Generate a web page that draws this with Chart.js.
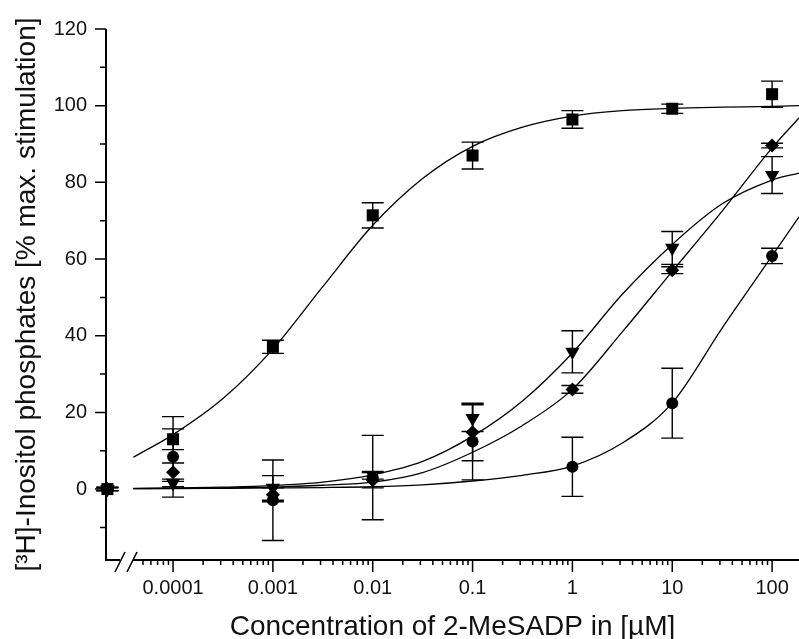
<!DOCTYPE html>
<html>
<head>
<meta charset="utf-8">
<script src="https://cdn.jsdelivr.net/npm/chart.js@4.4.1/dist/chart.umd.min.js"></script>
<style>
  html, body { margin: 0; padding: 0; background: #fff; }
  canvas { display: block; }
</style>
</head>
<body>
<canvas id="chart" width="799" height="639"></canvas>
<script>
// concentrations of 2-MeSADP (µM); first entry is the control (no agonist), drawn on the axis
const CONC = [2.2e-5, 0.0001, 0.001, 0.01, 0.1, 1, 10, 100];

// measured points (% max. stimulation) and their error bars
const SQUARES      = [0, 13.0, 37.1, 71.4, 87.0, 96.4, 99.2, 103.0];
const SQUARES_ERR  = [0.4, 2.7, 1.7, 3.3, 3.5, 2.3, 1.2, 3.4];
const CIRCLES      = [0, 8.4, -2.9, 3.0, 12.4, 5.8, 22.4, 60.8];
const CIRCLES_ERR  = [0.4, 10.5, 10.5, 11.0, 10.0, 7.7, 9.1, 2.0];
const DIAMONDS     = [0, 4.4, -1.5, 2.3, 14.8, 26.0, 57.1, 89.6];
const DIAMONDS_ERR = [0.4, 2.4, 1.8, 2.0, 7.4, 1.0, 0.9, 0.6];
const TRIANGLES    = [0, 1.6, 0.3, 3.6, 18.5, 35.8, 62.9, 81.9];
const TRIANGLES_ERR = [0.4, 1.0, 3.2, 1.0, 3.5, 5.5, 4.3, 4.8];

// fitted curves, every half decade
const FIT_X         = [4e-5, 1e-4, 3.16e-4, 1e-3, 3.16e-3, 0.01, 0.0316, 0.1, 0.316, 1, 3.16, 10, 31.6, 100, 186];
const SQUARES_FIT   = [8.3, 14.2, 23.6, 36.5, 52.8, 68.8, 81.0, 89.4, 94.4, 97.3, 98.7, 99.3, 99.6, 99.8, 100.0];
const TRIANGLES_FIT = [0.2, 0.3, 0.5, 0.9, 1.8, 3.7, 7.2, 13.8, 23.0, 35.5, 50.8, 63.8, 74.4, 80.6, 82.4];
const DIAMONDS_FIT  = [0.1, 0.2, 0.3, 0.5, 1.0, 1.8, 4.3, 9.6, 16.6, 26.0, 41.0, 56.8, 72.5, 89.0, 96.8];
const CIRCLES_FIT   = [0.1, 0.1, 0.2, 0.3, 0.4, 0.6, 1.1, 2.1, 3.6, 6.0, 12.0, 22.5, 42.0, 60.8, 71.0];

// axes
const X_MAJOR = [0.0001, 0.001, 0.01, 0.1, 1, 10, 100];
const X_LABELS = ['0.0001', '0.001', '0.01', '0.1', '1', '10', '100'];
const X_MINOR_MULT = [2, 3, 4, 5, 6, 7, 8, 9];
const Y_TICKS = [-10, 0, 10, 20, 30, 40, 50, 60, 70, 80, 90, 100, 110, 120];
const Y_LABELS = ['0', '20', '40', '60', '80', '100', '120'];

const X_MIN = 2.13e-5;
const X_MAX = 186;
const FONT = 'Liberation Sans';

function points(xs, ys) {
    return xs.map((x, i) => ({ x: x, y: ys[i] }));
}

function xTickValues() {
    const vals = [];
    [0.00001].concat(X_MAJOR).forEach(d => {
        if (d >= 0.0001) vals.push(d);
        X_MINOR_MULT.forEach(m => {
            const v = d * m;
            if (v > 4.5e-5 && v < X_MAX) vals.push(v);
        });
    });
    return vals.sort((a, b) => a - b);
}

function xLabelFor(v) {
    const k = X_MAJOR.findIndex(m => Math.abs(m - v) / m < 1e-6);
    return k >= 0 ? X_LABELS[k] : '';
}

const errorBars = {
    id: 'errorBars',
    beforeDatasetsDraw(chart) {
        const { ctx, scales: { x, y } } = chart;
        ctx.save();
        ctx.strokeStyle = '#000';
        ctx.lineWidth = 1.4;
        chart.data.datasets.forEach(ds => {
            if (!ds.errors) return;
            ds.data.forEach((p, i) => {
                const e = ds.errors[i];
                const px = x.getPixelForValue(p.x);
                const top = y.getPixelForValue(p.y + e);
                const bot = y.getPixelForValue(p.y - e);
                ctx.beginPath();
                ctx.moveTo(px, top); ctx.lineTo(px, bot);
                ctx.moveTo(px - 11, top); ctx.lineTo(px + 11, top);
                ctx.moveTo(px - 11, bot); ctx.lineTo(px + 11, bot);
                ctx.stroke();
            });
        });
        ctx.restore();
    }
};

// axis lines with the break on the x axis, plus long/short tick marks
const axesPlugin = {
    id: 'axesPlugin',
    afterDraw(chart) {
        const { ctx, chartArea: a, scales: { x, y } } = chart;
        ctx.save();
        ctx.strokeStyle = '#000';
        ctx.lineCap = 'butt';
        ctx.lineWidth = 2;
        ctx.beginPath();
        ctx.moveTo(a.left, a.top);
        ctx.lineTo(a.left, a.bottom + 1);
        ctx.moveTo(a.left - 1, a.bottom);
        ctx.lineTo(a.left + 14, a.bottom);
        ctx.moveTo(a.left + 27, a.bottom);
        ctx.lineTo(a.right, a.bottom);
        ctx.stroke();

        ctx.lineWidth = 1.6;
        ctx.beginPath();
        ctx.moveTo(a.left + 9, a.bottom + 12);
        ctx.lineTo(a.left + 19, a.bottom - 8);
        ctx.moveTo(a.left + 21, a.bottom + 12);
        ctx.lineTo(a.left + 31, a.bottom - 8);
        ctx.stroke();

        ctx.lineWidth = 1.5;
        ctx.beginPath();
        x.ticks.forEach(t => {
            const px = x.getPixelForValue(t.value);
            const len = t.label ? 12 : 5;
            ctx.moveTo(px, a.bottom);
            ctx.lineTo(px, a.bottom + len);
        });
        y.ticks.forEach(t => {
            const py = y.getPixelForValue(t.value);
            const len = t.label ? 11 : 6;
            ctx.moveTo(a.left, py);
            ctx.lineTo(a.left - len, py);
        });
        ctx.stroke();
        ctx.restore();
    }
};

function markerSet(ys, errs, style, radius, rotation) {
    return {
        data: points(CONC, ys),
        errors: errs,
        showLine: false,
        pointStyle: style,
        pointRadius: radius,
        pointRotation: rotation || 0,
        pointBackgroundColor: '#000',
        pointBorderColor: '#000',
        pointBorderWidth: 0,
        clip: false,
        order: 0
    };
}

function fitLine(ys) {
    return {
        data: points(FIT_X, ys),
        showLine: true,
        borderColor: '#000',
        borderWidth: 1.3,
        pointRadius: 0,
        fill: false,
        cubicInterpolationMode: 'monotone',
        order: 1
    };
}

new Chart(document.getElementById('chart'), {
    type: 'scatter',
    data: {
        datasets: [
            fitLine(SQUARES_FIT),
            fitLine(TRIANGLES_FIT),
            fitLine(DIAMONDS_FIT),
            fitLine(CIRCLES_FIT),
            markerSet(CIRCLES, CIRCLES_ERR, 'circle', 6),
            markerSet(DIAMONDS, DIAMONDS_ERR, 'rectRot', 7),
            markerSet(TRIANGLES, TRIANGLES_ERR, 'triangle', 8.3, 180),
            markerSet(SQUARES, SQUARES_ERR, 'rect', 8.5)
        ]
    },
    options: {
        responsive: false,
        animation: false,
        layout: { autoPadding: false, padding: { top: 29, right: 0, bottom: 0, left: 0 } },
        plugins: {
            legend: { display: false },
            tooltip: { enabled: false }
        },
        scales: {
            x: {
                type: 'logarithmic',
                min: X_MIN,
                max: X_MAX,
                afterBuildTicks: s => { s.ticks = xTickValues().map(v => ({ value: v })); },
                afterFit: s => { s.height = 79; s.paddingLeft = 0; s.paddingRight = 0; },
                grid: { display: false, drawTicks: false },
                border: { display: false },
                ticks: {
                    autoSkip: false,
                    maxRotation: 0,
                    padding: 16,
                    color: '#111',
                    font: { family: FONT, size: 20 },
                    callback: v => xLabelFor(v)
                },
                title: {
                    display: true,
                    text: 'Concentration of 2-MeSADP in [µM]',
                    color: '#111',
                    font: { family: FONT, size: 28, lineHeight: 0.85 },
                    padding: { top: 0, bottom: 0 }
                }
            },
            y: {
                type: 'linear',
                min: -18.5,
                max: 120,
                afterBuildTicks: s => { s.ticks = Y_TICKS.map(v => ({ value: v })); },
                afterFit: s => { s.width = 106; s.paddingTop = 0; s.paddingBottom = 0; },
                grid: { display: false, drawTicks: false },
                border: { display: false },
                ticks: {
                    autoSkip: false,
                    padding: 19,
                    color: '#111',
                    font: { family: FONT, size: 20 },
                    callback: v => (Y_LABELS.includes(String(v)) ? String(v) : '')
                },
                title: {
                    display: true,
                    text: '[³H]-Inositol phosphates [% max. stimulation]',
                    color: '#111',
                    font: { family: FONT, size: 28, lineHeight: 1.2 },
                    padding: { top: 10, bottom: 0 }
                }
            }
        }
    },
    plugins: [errorBars, axesPlugin]
});
</script>
</body>
</html>
